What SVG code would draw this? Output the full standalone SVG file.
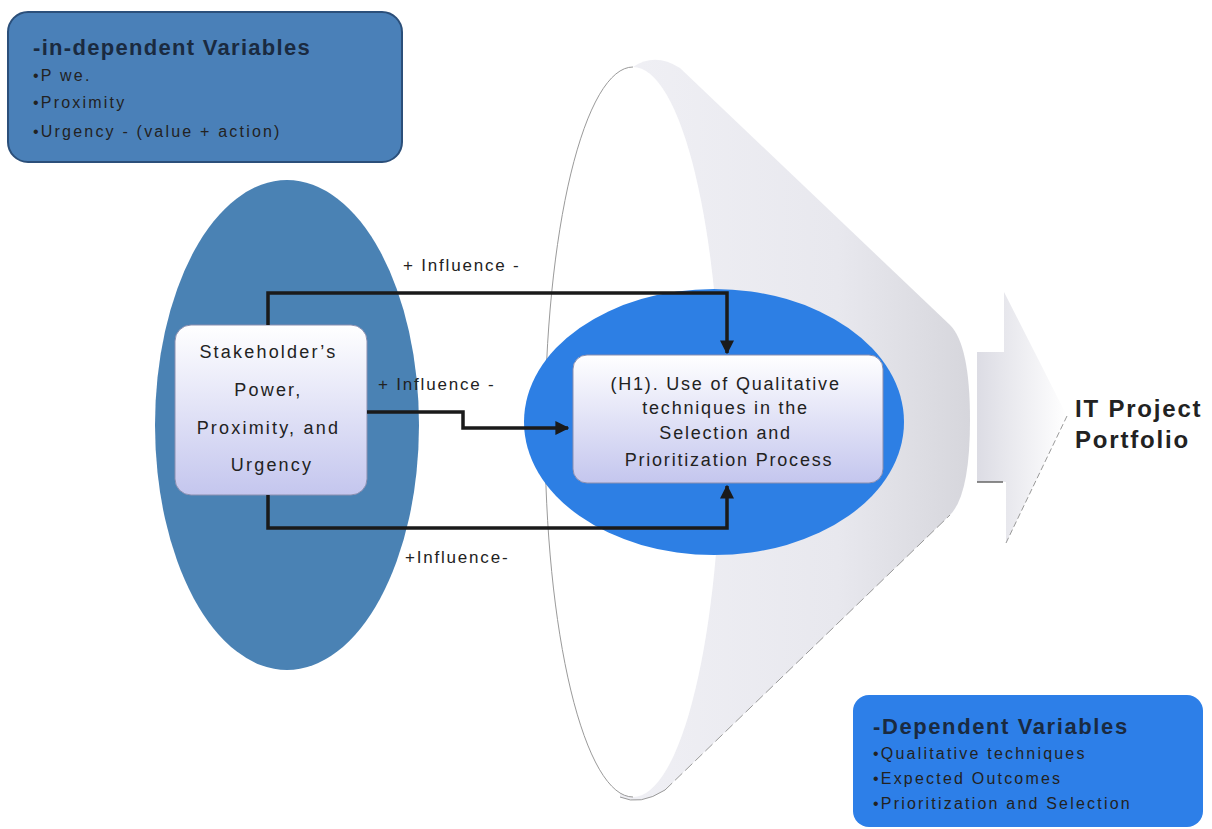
<svg xmlns="http://www.w3.org/2000/svg" width="1212" height="829" viewBox="0 0 1212 829">
<defs>
<linearGradient id="boxg" x1="0" y1="0" x2="0" y2="1">
<stop offset="0" stop-color="#ffffff"/>
<stop offset="1" stop-color="#c4c6ee"/>
</linearGradient>
<linearGradient id="coneg" gradientUnits="userSpaceOnUse" x1="640" y1="0" x2="970" y2="0">
<stop offset="0" stop-color="#efeff4"/>
<stop offset="0.6" stop-color="#e8e8ee"/>
<stop offset="1" stop-color="#d6d6dc"/>
</linearGradient>
<linearGradient id="arrg" x1="0" y1="0" x2="1" y2="0">
<stop offset="0" stop-color="#dcdce4"/>
<stop offset="1" stop-color="#ffffff"/>
</linearGradient>
<marker id="ah" viewBox="0 0 10 10" refX="9" refY="5" markerWidth="4" markerHeight="4" orient="auto">
<path d="M0,0 L10,5 L0,10 z" fill="#1a1a1a"/>
</marker>
<style>
.t{font-family:"Liberation Sans",Arial,sans-serif;fill:#222}
.lab{font-size:17px;letter-spacing:1.8px}
.li{font-size:16px;letter-spacing:2.2px}
.ttl{font-size:22px;font-weight:bold;fill:#1a2a40}
.conn{fill:none;stroke:#1a1a1a;stroke-width:3.5;marker-end:url(#ah)}
.box{fill:url(#boxg);stroke:#8a8fb0;stroke-width:1}
</style>
</defs>
<rect width="1212" height="829" fill="#ffffff"/>

<g id="cone">
<path d="M633,67 Q655,52 680,68 L950,325 Q970,345 970,420 Q970,495 950,515 L665,790 Q640,806 620,797 Z" fill="url(#coneg)"/>
<path d="M665,790 Q640,806 620,797" fill="none" stroke="#999" stroke-width="1"/>
<path d="M665,790 L950,515" fill="none" stroke="#999" stroke-width="1" stroke-dasharray="10,4"/>
<ellipse cx="633" cy="432" rx="88" ry="365" fill="#ffffff"/>
<path d="M633,67 A88,365 0 0 0 633,797" fill="none" stroke="#9a9a9a" stroke-width="1"/>
</g>

<g id="block-arrow">
<path d="M977,352 L1004,352 L1004,292 L1067,416 L1006,543 L1006,482 L977,482 Z" fill="url(#arrg)"/>
<line x1="1067" y1="416" x2="1006" y2="543" stroke="#999" stroke-width="1" stroke-dasharray="6,3"/>
<line x1="977" y1="482" x2="1003" y2="482" stroke="#666" stroke-width="1.5"/>
</g>

<g id="independent-vars">
<rect x="8" y="12" width="394" height="150" rx="20" fill="#4a80b8" stroke="#2b4f7a" stroke-width="2"/>
<text class="t ttl" x="33" y="55" letter-spacing="1.3">-in-dependent Variables</text>
<text class="t li" x="33" y="81">•P  we.</text>
<text class="t li" x="33" y="108">•Proximity</text>
<text class="t li" x="33" y="137">•Urgency - (value + action)</text>
</g>

<g id="stakeholder-ellipse">
<ellipse cx="287" cy="425" rx="132" ry="245" fill="#4a82b4"/>
</g>

<g id="h1-ellipse">
<ellipse cx="714" cy="422" rx="190" ry="133" fill="#2d7fe4"/>
</g>

<g id="stakeholder">
<rect class="box" x="175" y="325" width="192" height="170" rx="16"/>
<text class="t" font-size="18" letter-spacing="2.2" text-anchor="middle">
<tspan x="272" y="358">Stakeholder’s</tspan>
<tspan x="272" y="396">Power,</tspan>
<tspan x="272" y="434">Proximity, and</tspan>
<tspan x="272" y="471">Urgency</tspan>
</text>
</g>

<g id="h1">
<rect class="box" x="573" y="355" width="310" height="128" rx="14"/>
<text class="t" font-size="18" letter-spacing="1.8" text-anchor="middle">
<tspan x="729" y="390">(H1). Use of Qualitative</tspan>
<tspan x="729" y="414">techniques in the</tspan>
<tspan x="729" y="439">Selection and</tspan>
<tspan x="729" y="466">Prioritization Process</tspan>
</text>
</g>

<g id="connectors">
<path class="conn" d="M268,325 L268,293 L727,293 L727,353"/>
<path class="conn" d="M367,412 L463,412 L463,428 L568,428"/>
<path class="conn" d="M268,495 L268,528 L727,528 L727,486"/>
<text class="t lab" x="403" y="271">+ Influence -</text>
<text class="t lab" x="378" y="390">+ Influence -</text>
<text class="t lab" x="405" y="563">+Influence-</text>
</g>

<g id="portfolio">
<text class="t" font-size="24" font-weight="bold" letter-spacing="1.8" fill="#333">
<tspan x="1075" y="417">IT Project</tspan>
<tspan x="1075" y="448">Portfolio</tspan>
</text>
</g>

<g id="dependent-vars">
<rect x="853" y="695" width="350" height="132" rx="16" fill="#2d7fe8"/>
<text class="t ttl" x="873" y="734" letter-spacing="1.6">-Dependent Variables</text>
<text class="t li" x="873" y="759">•Qualitative techniques</text>
<text class="t li" x="873" y="784">•Expected Outcomes</text>
<text class="t li" x="873" y="809">•Prioritization and Selection</text>
</g>
</svg>
